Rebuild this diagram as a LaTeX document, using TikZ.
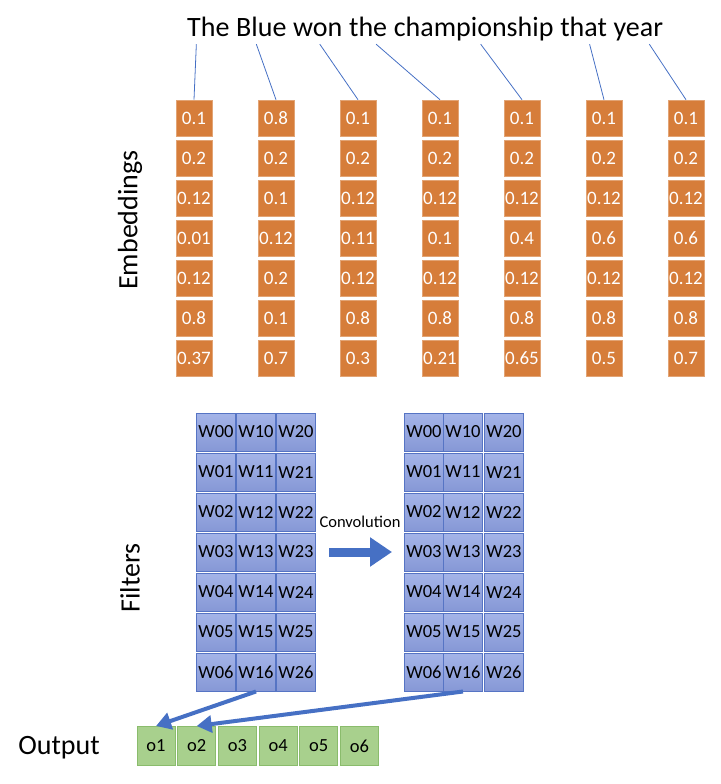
\documentclass[tikz,border=0pt]{standalone}
\usepackage{fontspec}
\setmainfont{Carlito}
\usetikzlibrary{arrows.meta}

\definecolor{embfill}{RGB}{214,125,58}
\definecolor{filtertop}{RGB}{164,180,232}
\definecolor{filterbot}{RGB}{134,152,214}
\definecolor{filterline}{RGB}{86,116,196}
\definecolor{outfill}{RGB}{168,208,141}
\definecolor{outline}{RGB}{138,188,108}
\definecolor{arrowblue}{RGB}{70,112,196}

\tikzset{
  word/.style={inner sep=0pt,anchor=base west,text depth=7pt,font=\fontsize{28}{30}\selectfont},
  embbox/.style={fill=embfill,draw=white!30!embfill,line width=0.6pt,minimum width=36pt,minimum height=36pt,
    inner sep=0pt,text=white,font=\fontsize{19}{20}\selectfont},
  wcell/.style={top color=filtertop,bottom color=filterbot,draw=filterline,line width=1pt,
    minimum width=39pt,minimum height=38pt,inner sep=0pt,font=\fontsize{18.5}{20}\selectfont},
  obox/.style={fill=outfill,draw=outline,line width=1pt,minimum width=38pt,minimum height=39pt,
    inner sep=0pt,font=\fontsize{18.5}{20}\selectfont},
  sidelabel/.style={font=\fontsize{28}{30}\selectfont},
  link/.style={draw=arrowblue,line width=0.8pt},
  feed/.style={draw=arrowblue,line width=4pt,-{Triangle[length=15pt,width=17pt]}}
}

\begin{document}
\begin{tikzpicture}[x=1pt,y=-1pt]
  \useasboundingbox (0,0) rectangle (720,784);
  \node[word] (w1) at (187,37) {The};
  \foreach \w [count=\i from 2, remember=\i as \j (initially 1)] in {Blue,won,the,championship,that,year}
    \node[word] (w\i) at ([xshift=6.3pt]w\j.base east) {\w};

  \node[sidelabel,rotate=90] (emblbl) at (130,220) {Embeddings};
  \foreach \c/\vals in {1/{0.1,0.2,0.12,0.01,0.12,0.8,0.37},
                        2/{0.8,0.2,0.1,0.12,0.2,0.1,0.7},
                        3/{0.1,0.2,0.12,0.11,0.12,0.8,0.3},
                        4/{0.1,0.2,0.12,0.1,0.12,0.8,0.21},
                        5/{0.1,0.2,0.12,0.4,0.12,0.8,0.65},
                        6/{0.1,0.2,0.12,0.6,0.12,0.8,0.5},
                        7/{0.1,0.2,0.12,0.6,0.12,0.8,0.7}}
    \foreach \v [count=\r] in \vals
      \node[embbox] (e\c-\r) at ({194+82*(\c-1)},{118+40*(\r-1)}) {\v};
  \foreach \c/\dx in {1/-12,2/-5,3/2,4/8,5/7,6/6,7/11}
    \draw[link] ([xshift=\dx pt]w\c.south) -- (e\c-1.north);

  \node[sidelabel,rotate=90] (fltlbl) at (130,578) {Filters};
  \foreach \c/\xl/\xr in {0/216/424,1/256/463,2/296/504}
    \foreach \r in {0,...,6} {
      \node[wcell] (l\c\r) at (\xl,{432+40*\r}) {W\c\r};
      \node[wcell] (r\c\r) at (\xr,{432+40*\r}) {W\c\r};
    }
  \draw[arrowblue,line width=9pt,shorten <=13pt,shorten >=12pt,-{Triangle[length=22pt,width=28pt]}]
    (l23.east) -- node[midway,above=17pt,text=black,font=\fontsize{16.5}{18}\selectfont] (conv) {Convolution} (r03.west);

  \node[sidelabel] (outlbl) at (59,748) {Output};
  \foreach \i in {1,...,6}
    \node[obox] (o\i) at ({156+40.7*(\i-1)},746) {o\i};
  \draw[feed] (l16.south) -- (o1.north);
  \draw[feed] (r16.south) -- (o2.north);
\end{tikzpicture}
\end{document}
